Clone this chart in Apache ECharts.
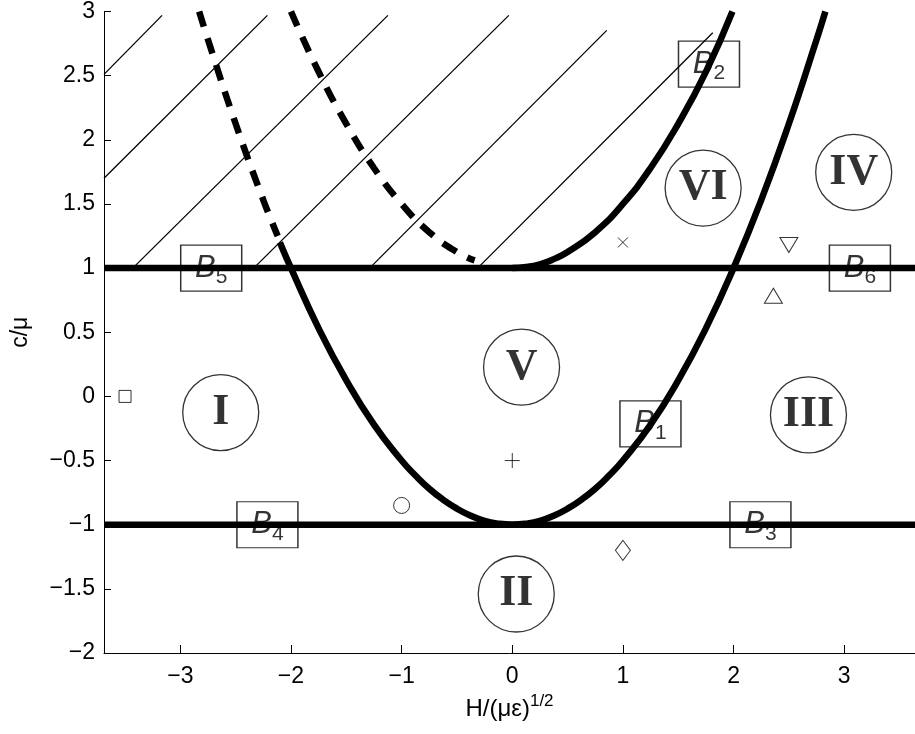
<!DOCTYPE html>
<html>
<head>
<meta charset="utf-8">
<title>c/mu vs H</title>
<script src="https://cdn.jsdelivr.net/npm/echarts@6/dist/echarts.min.js"></script>
<style>
  html, body { margin: 0; padding: 0; background: #fff; }
  #chart { width: 915px; height: 734px; }
</style>
</head>
<body>
<div id="chart"></div>
<script>
// axis limits
const xRange = [-3.69, 3.64]
const yRange = [-2, 3]

// B1, solid part
const b1H = [-2.1, -2.0, -1.75, -1.5, -1.25, -1.0, -0.875, -0.75, -0.625, -0.5, -0.375, -0.25, -0.125, 0,
  0.125, 0.25, 0.375, 0.5, 0.625, 0.75, 0.875, 1.0, 1.25, 1.5, 1.75, 2.0, 2.25, 2.5, 2.75, 2.83]
const b1C = [1.2, 1.0, 0.53, 0.125, -0.22, -0.5, -0.617, -0.72, -0.805, -0.875, -0.93, -0.97, -0.992, -1,
  -0.992, -0.97, -0.93, -0.875, -0.805, -0.72, -0.617, -0.5, -0.22, 0.125, 0.53, 1.0, 1.53, 2.125, 2.78, 3.0]
// B1 continued, dashed
const b1dH = [-2.83, -2.75, -2.5, -2.25, -2.12]
const b1dC = [3.0, 2.78, 2.125, 1.53, 1.25]
// B2, solid part
const b2H = [0, 0.125, 0.25, 0.375, 0.5, 0.75, 1.0, 1.25, 1.5, 1.75, 1.99]
const b2C = [1, 1.008, 1.03, 1.07, 1.125, 1.28, 1.5, 1.78, 2.125, 2.53, 3.0]
// B2 continued, dashed
const b2dH = [-2.0, -1.75, -1.5, -1.25, -1.0, -0.75, -0.5, -0.34]
const b2dC = [3.0, 2.53, 2.125, 1.78, 1.5, 1.28, 1.125, 1.06]

// horizontal boundaries B3..B6
const levelC = [1, -1]

// hatch lines: start H, start c, end H, end c
const hatch = [
  [-3.69, 2.51, -3.165, 2.97],
  [-3.69, 1.70, -2.213, 2.97],
  [-3.43, 1.0, -1.124, 2.97],
  [-2.337, 1.0, -0.031, 2.97],
  [-1.289, 1.0, 0.854, 2.853],
  [-0.313, 1.0, 1.812, 2.835]
]

// test points
const markerH = [-3.5, -1, 0, 1, 1, 2.5, 2.36]
const markerC = [0, -0.85, -0.5, -1.2, 1.2, 1.18, 0.785]

// region labels
const regionNames = ['I', 'II', 'III', 'IV', 'V', 'VI']
const regionH = [-2.635, 0.036, 2.677, 3.086, 0.084, 1.725]
const regionC = [-0.126, -1.54, -0.144, 1.746, 0.228, 1.624]

// boundary labels
const boxNames = ['1', '2', '3', '4', '5', '6']
const boxH = [1.249, 1.778, 2.243, -2.213, -2.721, 3.142]
const boxC = [-0.214, 2.59, -1, -1, 1, 1]

const pairs = (xs, ys) => xs.map((x, i) => [x, ys[i]])
const minus = v => String(v).replace('-', '\u2212')

const markerStyle = [
  {symbol: 'rect', symbolSize: 12},
  {symbol: 'circle', symbolSize: 16},
  {symbol: 'path://M5,0L5,10M0,5L10,5', symbolSize: 15},
  {symbol: 'diamond', symbolSize: [15, 20]},
  {symbol: 'path://M0,0L10,10M10,0L0,10', symbolSize: 10},
  {symbol: 'triangle', symbolSize: [18, 15], symbolRotate: 180},
  {symbol: 'triangle', symbolSize: [18, 15]}
]

const thick = 6.5
const lineSeries = (data, extra) => Object.assign({
  type: 'line',
  data: data,
  symbol: 'none',
  silent: true,
  lineStyle: {color: '#000', width: thick, cap: 'butt'}
}, extra || {})

const series = []

hatch.forEach(h => {
  series.push(lineSeries([[h[0], h[1]], [h[2], h[3]]], {
    lineStyle: {color: '#000', width: 1.3}
  }))
})

levelC.forEach(c => {
  series.push(lineSeries([[xRange[0], c], [xRange[1], c]]))
})

series.push(lineSeries(pairs(b1H, b1C), {smooth: true}))
series.push(lineSeries(pairs(b2H, b2C), {smooth: true}))
series.push(lineSeries(pairs(b1dH, b1dC), {
  smooth: true,
  lineStyle: {color: '#000', width: thick, type: [16, 12], cap: 'butt'}
}))
series.push(lineSeries(pairs(b2dH, b2dC), {
  smooth: true,
  lineStyle: {color: '#000', width: thick, type: [16, 12], cap: 'butt'}
}))

series.push({
  type: 'scatter',
  silent: true,
  data: markerH.map((h, i) => Object.assign({value: [h, markerC[i]]}, markerStyle[i])),
  itemStyle: {color: '#fff', borderColor: '#000', borderWidth: 1}
})

series.push({
  type: 'scatter',
  silent: true,
  symbol: 'circle',
  symbolSize: 76,
  data: regionNames.map((n, i) => ({name: n, value: [regionH[i], regionC[i]]})),
  itemStyle: {color: '#fff', borderColor: '#000', borderWidth: 1.3},
  label: {
    show: true,
    position: 'inside',
    formatter: p => p.name,
    color: '#000',
    fontFamily: 'Liberation Serif',
    fontWeight: 'bold',
    fontSize: 44
  }
})

series.push({
  type: 'scatter',
  silent: true,
  symbol: 'rect',
  symbolSize: [61, 46],
  data: boxNames.map((n, i) => ({name: n, value: [boxH[i], boxC[i]]})),
  itemStyle: {color: '#fff', borderColor: '#000', borderWidth: 1.3},
  label: {
    show: true,
    position: 'inside',
    formatter: p => '{b|B}{s|' + p.name + '}',
    rich: {
      b: {fontFamily: 'Liberation Sans', fontStyle: 'italic', fontSize: 31, lineHeight: 30, color: '#000'},
      s: {fontFamily: 'Liberation Sans', fontSize: 21, height: 11, verticalAlign: 'bottom', color: '#000'}
    }
  }
})

const axisFont = {color: '#000', fontFamily: 'Liberation Sans', fontSize: 23}

const option = {
  animation: false,
  backgroundColor: '#fff',
  grid: {left: 104, right: 0, top: 7, bottom: 81},
  xAxis: {
    type: 'value',
    min: xRange[0],
    max: xRange[1],
    minInterval: 1,
    maxInterval: 1,
    name: '{n|H/(\u03bc\u03b5)}{sup|1/2}',
    nameLocation: 'middle',
    nameGap: 40,
    nameTextStyle: {
      rich: {
        n: {fontFamily: 'Liberation Sans', fontSize: 24, lineHeight: 26, color: '#000'},
        sup: {fontFamily: 'Liberation Sans', fontSize: 17, height: 11, lineHeight: 11, verticalAlign: 'top', color: '#000'}
      }
    },
    axisLine: {onZero: false, lineStyle: {color: '#000', width: 1}},
    axisTick: {inside: true, length: 8, lineStyle: {color: '#000'}},
    axisLabel: Object.assign({
      margin: 12,
      showMinLabel: false,
      showMaxLabel: false,
      formatter: v => Number.isInteger(Math.round(v * 1000) / 1000) ? minus(v) : ''
    }, axisFont),
    splitLine: {show: false}
  },
  yAxis: {
    type: 'value',
    min: yRange[0],
    max: yRange[1],
    interval: 0.5,
    name: 'c/\u03bc',
    nameLocation: 'middle',
    nameGap: 72,
    nameTextStyle: axisFont,
    axisLine: {onZero: false, lineStyle: {color: '#000', width: 1}},
    axisTick: {inside: true, length: 7, lineStyle: {color: '#000'}},
    axisLabel: Object.assign({margin: 9, formatter: minus}, axisFont),
    splitLine: {show: false}
  },
  series: series
}

const myChart = echarts.init(document.getElementById('chart'))
myChart.setOption(option)
</script>
</body>
</html>
